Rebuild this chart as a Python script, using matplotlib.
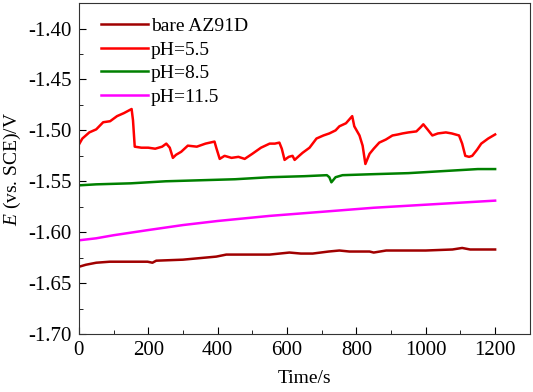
import numpy as np
import matplotlib.pyplot as plt
from matplotlib.ticker import MultipleLocator

plt.rcParams['font.family'] = 'Liberation Serif'
plt.rcParams['mathtext.fontset'] = 'custom'
plt.rcParams['mathtext.rm'] = 'Liberation Serif'
plt.rcParams['mathtext.it'] = 'Liberation Serif:italic'

# bare AZ91D
t_bare = [0, 20, 50, 89, 150, 198, 212, 223, 300, 396, 425, 500, 550, 607, 640, 674, 720, 751, 780, 838, 850, 886, 950, 1000, 1077, 1105, 1128, 1200]
e_bare = [-1.634, -1.632, -1.630, -1.629, -1.629, -1.629, -1.630, -1.628, -1.627, -1.624, -1.622, -1.622, -1.622, -1.620, -1.621, -1.621, -1.619, -1.618, -1.619, -1.619, -1.620, -1.618, -1.618, -1.618, -1.617, -1.6155, -1.617, -1.617]

# pH=5.5
t_55 = [0, 10, 30, 50, 70, 90, 110, 130, 152, 156, 161, 180, 200, 220, 240, 252, 262, 271, 280, 295, 314, 340, 365, 391, 396, 406, 420, 440, 460, 478, 500, 525, 550, 565, 578, 585, 593, 605, 616, 622, 635, 645, 665, 685, 705, 722, 740, 751, 770, 788, 794, 809, 818, 826, 838, 850, 866, 885, 904, 920, 933, 950, 973, 985, 993, 1005, 1019, 1035, 1058, 1075, 1096, 1105, 1114, 1125, 1134, 1148, 1160, 1180, 1200]
e_55 = [-1.514, -1.508, -1.502, -1.499, -1.492, -1.491, -1.486, -1.483, -1.479, -1.490, -1.516, -1.517, -1.517, -1.518, -1.516, -1.513, -1.517, -1.527, -1.524, -1.521, -1.515, -1.516, -1.513, -1.511, -1.517, -1.528, -1.525, -1.527, -1.526, -1.528, -1.523, -1.517, -1.513, -1.513, -1.512, -1.518, -1.529, -1.526, -1.525, -1.529, -1.525, -1.522, -1.517, -1.508, -1.505, -1.503, -1.500, -1.496, -1.493, -1.486, -1.496, -1.505, -1.515, -1.533, -1.523, -1.518, -1.512, -1.509, -1.505, -1.504, -1.503, -1.502, -1.501, -1.497, -1.494, -1.499, -1.505, -1.503, -1.502, -1.503, -1.505, -1.513, -1.525, -1.526, -1.525, -1.519, -1.513, -1.508, -1.504]

# pH=8.5
t_85 = [0, 50, 150, 250, 350, 450, 550, 650, 715, 722, 728, 740, 760, 850, 950, 1050, 1150, 1200]
e_85 = [-1.554, -1.553, -1.552, -1.550, -1.549, -1.548, -1.546, -1.545, -1.544, -1.546, -1.551, -1.546, -1.544, -1.543, -1.542, -1.540, -1.538, -1.538]

# pH=11.5
t_115 = [0, 50, 100, 198, 300, 400, 550, 700, 850, 1000, 1100, 1200]
e_115 = [-1.608, -1.606, -1.603, -1.598, -1.593, -1.589, -1.584, -1.580, -1.576, -1.573, -1.571, -1.569]

labels = ['bare AZ91D', 'pH=5.5', 'pH=8.5', 'pH=11.5']
colors = ['#a00000', '#ff0000', '#008000', '#ff00ff']

fig = plt.figure(figsize=(5.33, 3.92), dpi=100)
ax = fig.add_axes([0.148, 0.148, 0.846, 0.844])

for t, e, lab, c in zip([t_bare, t_55, t_85, t_115], [e_bare, e_55, e_85, e_115], labels, colors):
    ax.plot(t, e, color=c, lw=1.8, label=lab)

ax.set_xlim(0, 1300)
ax.set_ylim(-1.70, -1.375)
ax.set_xticks([0, 200, 400, 600, 800, 1000, 1200])
ax.set_yticks(np.arange(-1.70, -1.39, 0.05))
ax.set_yticklabels(['-1.70', '-1.65', '-1.60', '-1.55', '-1.50', '-1.45', '-1.40'])
ax.xaxis.set_minor_locator(MultipleLocator(100))
ax.yaxis.set_minor_locator(MultipleLocator(0.025))
ax.tick_params(which='both', direction='in', labelsize=15, top=False, right=False, pad=5)
ax.tick_params(which='major', length=5)
ax.tick_params(which='minor', length=3)
for s in ax.spines.values():
    s.set_color('#333333')
ax.set_xlabel('Time/s', fontsize=14, labelpad=7)
ax.set_ylabel('$E$ (vs. SCE)/V', fontsize=14, labelpad=4)

ax.legend(loc='upper left', bbox_to_anchor=(0.011, 1.009), frameon=False, fontsize=14,
          handlelength=2.4, labelspacing=0.3, handletextpad=0.15)

fig.savefig('out.png', dpi=100)
